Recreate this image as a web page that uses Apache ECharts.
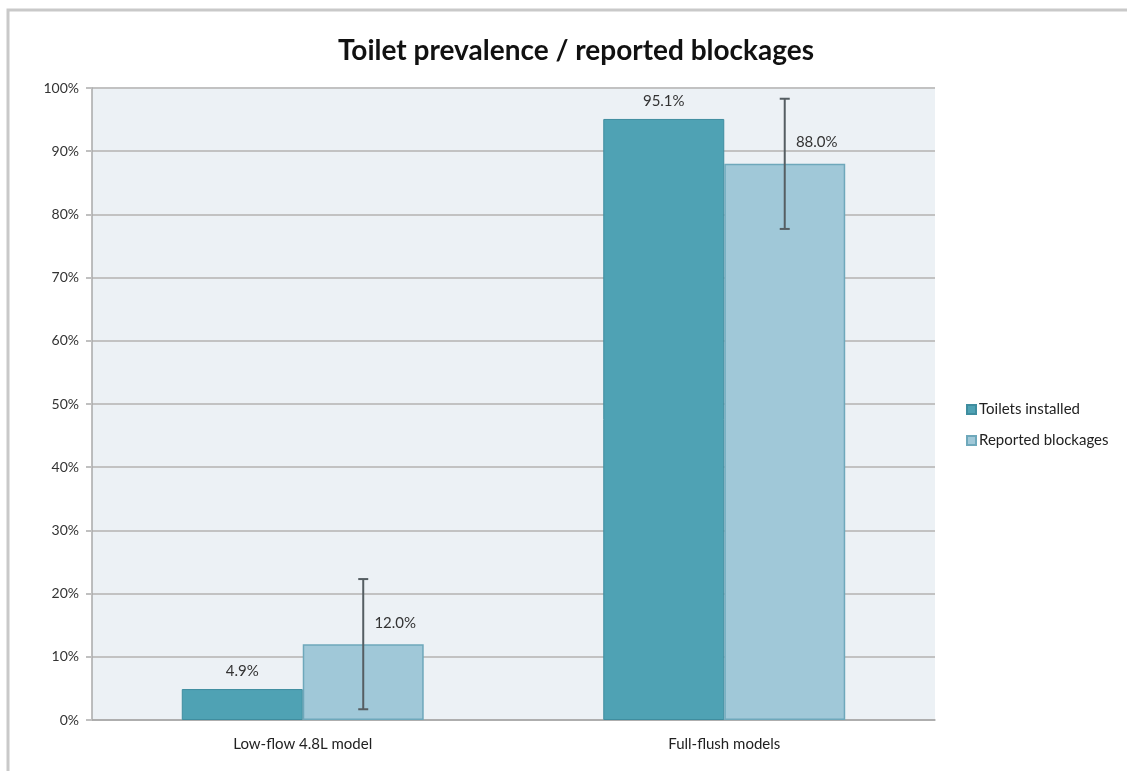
<!DOCTYPE html>
<html>
<head>
<meta charset="utf-8">
<script src="https://cdn.jsdelivr.net/npm/echarts@6/dist/echarts.min.js"></script>
<style>
  html, body { margin: 0; padding: 0; background: #fff; }
  #chart { width: 1127px; height: 771px; }
</style>
</head>
<body>
<div id="chart"></div>
<script>
  var categories = ["Low-flow 4.8L model", "Full-flush models"];
  var installed = [4.9, 95.1];
  var blockages = [12.0, 88.0];
  var blockageErr = [10.3, 10.3];
  var yTicks = [0, 10, 20, 30, 40, 50, 60, 70, 80, 90, 100];

  var catGap = 0.426; // fraction of category width left empty

  var chart = echarts.init(document.getElementById("chart"));

  chart.setOption({
    animation: false,
    textStyle: { fontFamily: "Lato, Open Sans, sans-serif" },
    title: {
      text: "Toilet prevalence / reported blockages",
      left: 571,
      top: 32,
      textAlign: "center",
      textStyle: { fontFamily: "Lato", fontSize: 28, fontWeight: "bold", color: "#111" }
    },
    graphic: [{
      type: "rect",
      shape: { x: 8, y: 10, width: 1200, height: 900 },
      style: { fill: "none", stroke: "#c9c9c9", lineWidth: 3 },
      silent: true
    }],
    legend: {
      orient: "vertical",
      left: 961,
      top: 397,
      itemGap: 16,
      itemWidth: 9,
      itemHeight: 9,
      icon: "rect",
      textStyle: { fontSize: 15, color: "#222", padding: [0, 0, 0, -2] },
      data: ["Toilets installed", "Reported blockages"]
    },
    grid: {
      left: 92,
      right: 192,
      top: 88,
      bottom: 51,
      show: true,
      backgroundColor: "#ecf1f5",
      borderWidth: 0
    },
    xAxis: {
      type: "category",
      data: categories,
      axisTick: { show: false },
      axisLine: { lineStyle: { color: "#a8a8a8", width: 1.5 } },
      axisLabel: { color: "#222", fontSize: 15, margin: 17 }
    },
    yAxis: {
      type: "value",
      min: yTicks[0],
      max: yTicks[yTicks.length - 1],
      interval: 10,
      axisLine: { show: true, lineStyle: { color: "#a8a8a8", width: 1.5 } },
      axisTick: { show: true, length: 6, lineStyle: { color: "#c0c0c0", width: 2 } },
      axisLabel: { color: "#333", fontSize: 14, margin: 13, formatter: "{value}%" },
      splitLine: { lineStyle: { color: "#c2c2c2", width: 2 } }
    },
    series: [
      {
        name: "Toilets installed",
        type: "bar",
        data: installed,
        barGap: "0%",
        barCategoryGap: (catGap * 100) + "%",
        itemStyle: { color: "#4fa2b4", borderColor: "#3f8d9f", borderWidth: 1 },
        label: {
          show: true,
          position: "top",
          distance: 10,
          color: "#333",
          fontSize: 15,
          formatter: function (p) { return p.value.toFixed(1) + "%"; }
        }
      },
      {
        name: "Reported blockages",
        type: "bar",
        data: blockages,
        itemStyle: { color: "#a0c8d8", borderColor: "#6ea8bb", borderWidth: 1.5 },
        label: {
          show: true,
          position: "top",
          distance: 14,
          offset: [32, 0],
          color: "#333",
          fontSize: 15,
          formatter: function (p) { return p.value.toFixed(1) + "%"; }
        }
      },
      {
        name: "error",
        type: "custom",
        z: 10,
        data: blockages.map(function (v, i) { return [i, v - blockageErr[i], v + blockageErr[i]]; }),
        renderItem: function (params, api) {
          var catW = api.size([1, 0])[0];
          var barW = catW * (1 - catGap) / 2;
          var lo = api.coord([api.value(0), api.value(1)]);
          var hi = api.coord([api.value(0), api.value(2)]);
          var x = lo[0] + barW / 2;
          var cap = 5;
          var style = { stroke: "#555e62", lineWidth: 2 };
          return {
            type: "group",
            children: [
              { type: "line", shape: { x1: x, y1: hi[1], x2: x, y2: lo[1] }, style: style },
              { type: "line", shape: { x1: x - cap, y1: hi[1], x2: x + cap, y2: hi[1] }, style: style },
              { type: "line", shape: { x1: x - cap, y1: lo[1], x2: x + cap, y2: lo[1] }, style: style }
            ]
          };
        }
      }
    ]
  });
</script>
</body>
</html>
